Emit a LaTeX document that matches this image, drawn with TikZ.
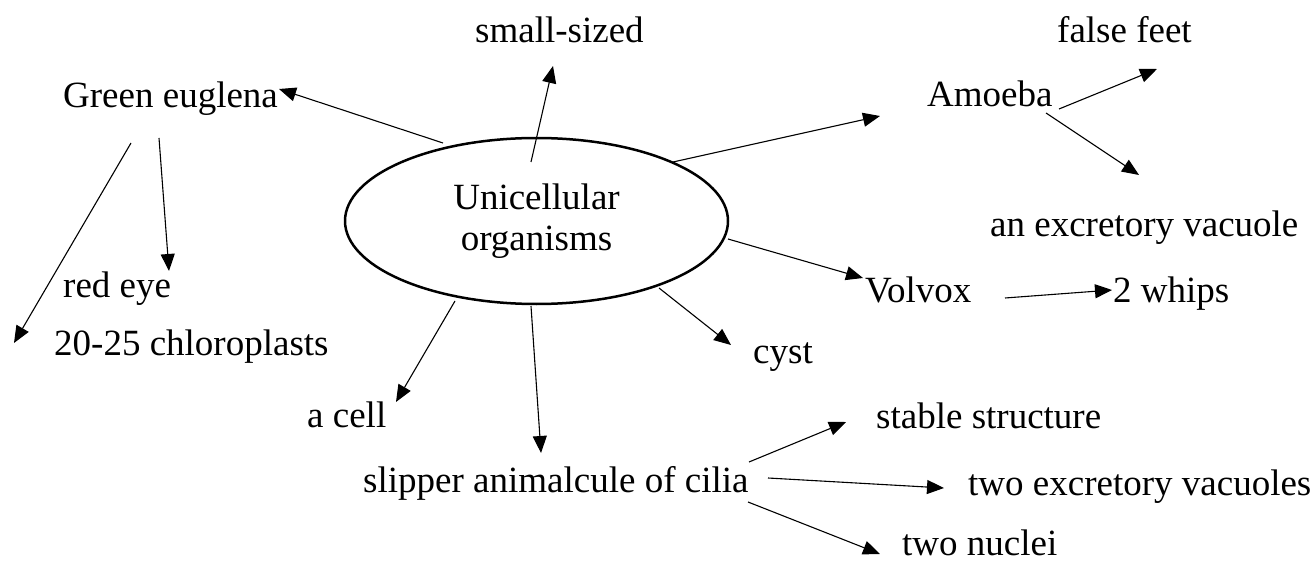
\documentclass[tikz,border=0pt]{standalone}
\usepackage{fontspec}
\setmainfont{Liberation Serif}
\usetikzlibrary{arrows.meta,shapes.geometric}
\begin{document}
\begin{tikzpicture}[x=1pt,y=-1pt,
  lbl/.style={anchor=base west,inner sep=0pt,font=\fontsize{37}{41}\selectfont},
  arr/.style={-{Triangle[length=17pt,width=14pt]},line width=1.1pt},
  hub/.style={draw,ellipse,line width=2.5pt,minimum width=383pt,minimum height=166pt,inner sep=0pt,align=center,font=\fontsize{37}{41}\selectfont}
  ]
\useasboundingbox (0,0) rectangle (1314,561);
\node[hub] (uni) at (536.5,221) {Unicellular\\organisms};
\node[lbl] (small) at (475,43) {small-sized};
\node[lbl] (green) at (63,108) {Green euglena};
\node[lbl] (amoeba) at (927,107) {Amoeba};
\node[lbl] (feet) at (1057,43) {false feet};
\node[lbl] (vac) at (990,237) {an excretory vacuole};
\node[lbl] (volvox) at (865,302) {Volvox};
\node[lbl] (whips) at (1113,302) {2 whips};
\node[lbl] (redeye) at (63,298) {red eye};
\node[lbl] (chloro) at (54,355) {20-25 chloroplasts};
\node[lbl] (cell) at (307,427) {a cell};
\node[lbl] (cyst) at (753,363) {cyst};
\node[lbl] (slipper) at (363,492) {slipper animalcule of cilia};
\node[lbl] (stable) at (876,428) {stable structure};
\node[lbl] (twovac) at (968,495) {two excretory vacuoles};
\node[lbl] (nuclei) at (902,555) {two nuclei};
% connector ends
\coordinate (uS1) at (531,162); \coordinate (smallE) at (553,66);
\coordinate (uS2) at (443,143); \coordinate (greenE) at (279,89);
\coordinate (gS1) at (159,138); \coordinate (redeyeE) at (169,271);
\coordinate (gS2) at (131,143); \coordinate (chloroE) at (14,343);
\coordinate (uS3) at (673,162); \coordinate (amoebaE) at (880,116);
\coordinate (aS1) at (1059,109); \coordinate (feetE) at (1157,69);
\coordinate (aS2) at (1046,113); \coordinate (vacE) at (1139,175);
\coordinate (uS4) at (728,239); \coordinate (volvoxE) at (863,278);
\coordinate (vS1) at (1005,298); \coordinate (whipsE) at (1112,290);
\coordinate (uS5) at (455,301); \coordinate (cellE) at (396,402);
\coordinate (uS6) at (531,306); \coordinate (slipperE) at (541,453);
\coordinate (uS7) at (659,288); \coordinate (cystE) at (731,345);
\coordinate (sS1) at (749,462); \coordinate (stableE) at (846,422);
\coordinate (sS2) at (768,478); \coordinate (twovacE) at (944,488);
\coordinate (sS3) at (748,502); \coordinate (nucleiE) at (880,554);
\draw[arr] (uS1) -- (smallE);
\draw[arr] (uS2) -- (greenE);
\draw[arr] (gS1) -- (redeyeE);
\draw[arr] (gS2) -- (chloroE);
\draw[arr] (uS3) -- (amoebaE);
\draw[arr] (aS1) -- (feetE);
\draw[arr] (aS2) -- (vacE);
\draw[arr] (uS4) -- (volvoxE);
\draw[arr] (vS1) -- (whipsE);
\draw[arr] (uS5) -- (cellE);
\draw[arr] (uS6) -- (slipperE);
\draw[arr] (uS7) -- (cystE);
\draw[arr] (sS1) -- (stableE);
\draw[arr] (sS2) -- (twovacE);
\draw[arr] (sS3) -- (nucleiE);
\end{tikzpicture}
\end{document}
